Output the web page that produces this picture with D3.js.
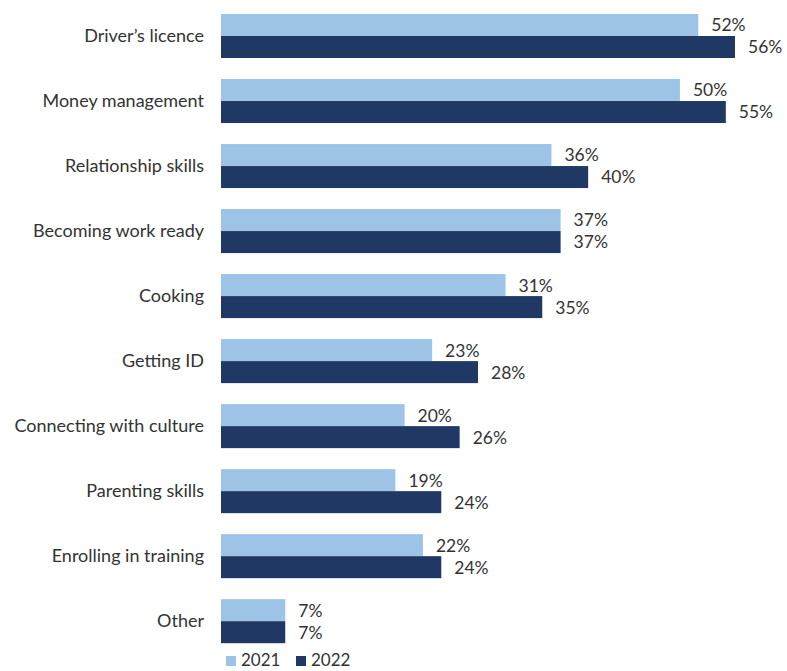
<!DOCTYPE html>
<html>
<head>
<meta charset="utf-8">
<script src="https://cdn.jsdelivr.net/npm/d3@7"></script>
<style>
  html, body { margin: 0; padding: 0; background: #ffffff; }
  svg { display: block; }
  text { font-family: Lato, "Open Sans", sans-serif; fill: #333333; }
</style>
</head>
<body>
<svg id="chart" width="787" height="671"></svg>
<script>
const categories = [
  "Driver\u2019s licence",
  "Money management",
  "Relationship skills",
  "Becoming work ready",
  "Cooking",
  "Getting ID",
  "Connecting with culture",
  "Parenting skills",
  "Enrolling in training",
  "Other"
];
const seriesNames = ["2021", "2022"];
const values2021 = [52, 50, 36, 37, 31, 23, 20, 19, 22, 7];
const values2022 = [56, 55, 40, 37, 35, 28, 26, 24, 24, 7];
const colors = ["#9DC3E6", "#1F3864"];

const svg = d3.select("#chart");
const plotLeft = 221, plotTop = 3.6;
const plotW = 514, plotH = 650;

const x = d3.scaleLinear().domain([0, 56]).range([plotLeft, plotLeft + plotW]);
const y0 = d3.scaleBand().domain(categories).range([plotTop, plotTop + plotH]).paddingInner(0.323).paddingOuter(0.16);
const y1 = d3.scaleBand().domain(seriesNames).range([0, y0.bandwidth()]);

const rows = categories.map((c, i) => ({
  cat: c,
  vals: [
    { s: seriesNames[0], v: values2021[i], color: colors[0] },
    { s: seriesNames[1], v: values2022[i], color: colors[1] }
  ]
}));

const g = svg.append("g");
const grp = g.selectAll("g.row").data(rows).join("g")
  .attr("class", "row")
  .attr("transform", d => `translate(0,${y0(d.cat)})`);

grp.selectAll("rect").data(d => d.vals).join("rect")
  .attr("x", x(0))
  .attr("y", d => y1(d.s))
  .attr("width", d => x(d.v) - x(0))
  .attr("height", y1.bandwidth())
  .attr("fill", d => d.color);

grp.selectAll("text.val").data(d => d.vals).join("text")
  .attr("class", "val")
  .attr("x", d => x(d.v) + 13)
  .attr("y", d => y1(d.s) + y1.bandwidth() / 2 + 2)
  .attr("dominant-baseline", "middle")
  .style("font-size", "17.5px")
  .text(d => d.v + "%");

// category labels (y axis without line or ticks)
const yAxis = d3.axisLeft(y0).tickSize(0).tickPadding(17);
const ax = g.append("g").attr("transform", `translate(${plotLeft},0)`).call(yAxis);
ax.select(".domain").remove();
ax.selectAll("text")
  .style("font-size", "18px")
  .style("font-family", "Lato, 'Open Sans', sans-serif")
  .attr("fill", "#333333");

// legend
const legend = svg.append("g").attr("transform", "translate(226,661)");
const items = legend.selectAll("g").data(seriesNames).join("g")
  .attr("transform", (d, i) => `translate(${i * 70},0)`);
items.append("rect")
  .attr("x", 0).attr("y", -5)
  .attr("width", 10).attr("height", 10)
  .attr("fill", (d, i) => colors[i]);
items.append("text")
  .attr("x", 15).attr("y", 1)
  .attr("dominant-baseline", "middle")
  .style("font-size", "17px")
  .text(d => d);
</script>
</body>
</html>
